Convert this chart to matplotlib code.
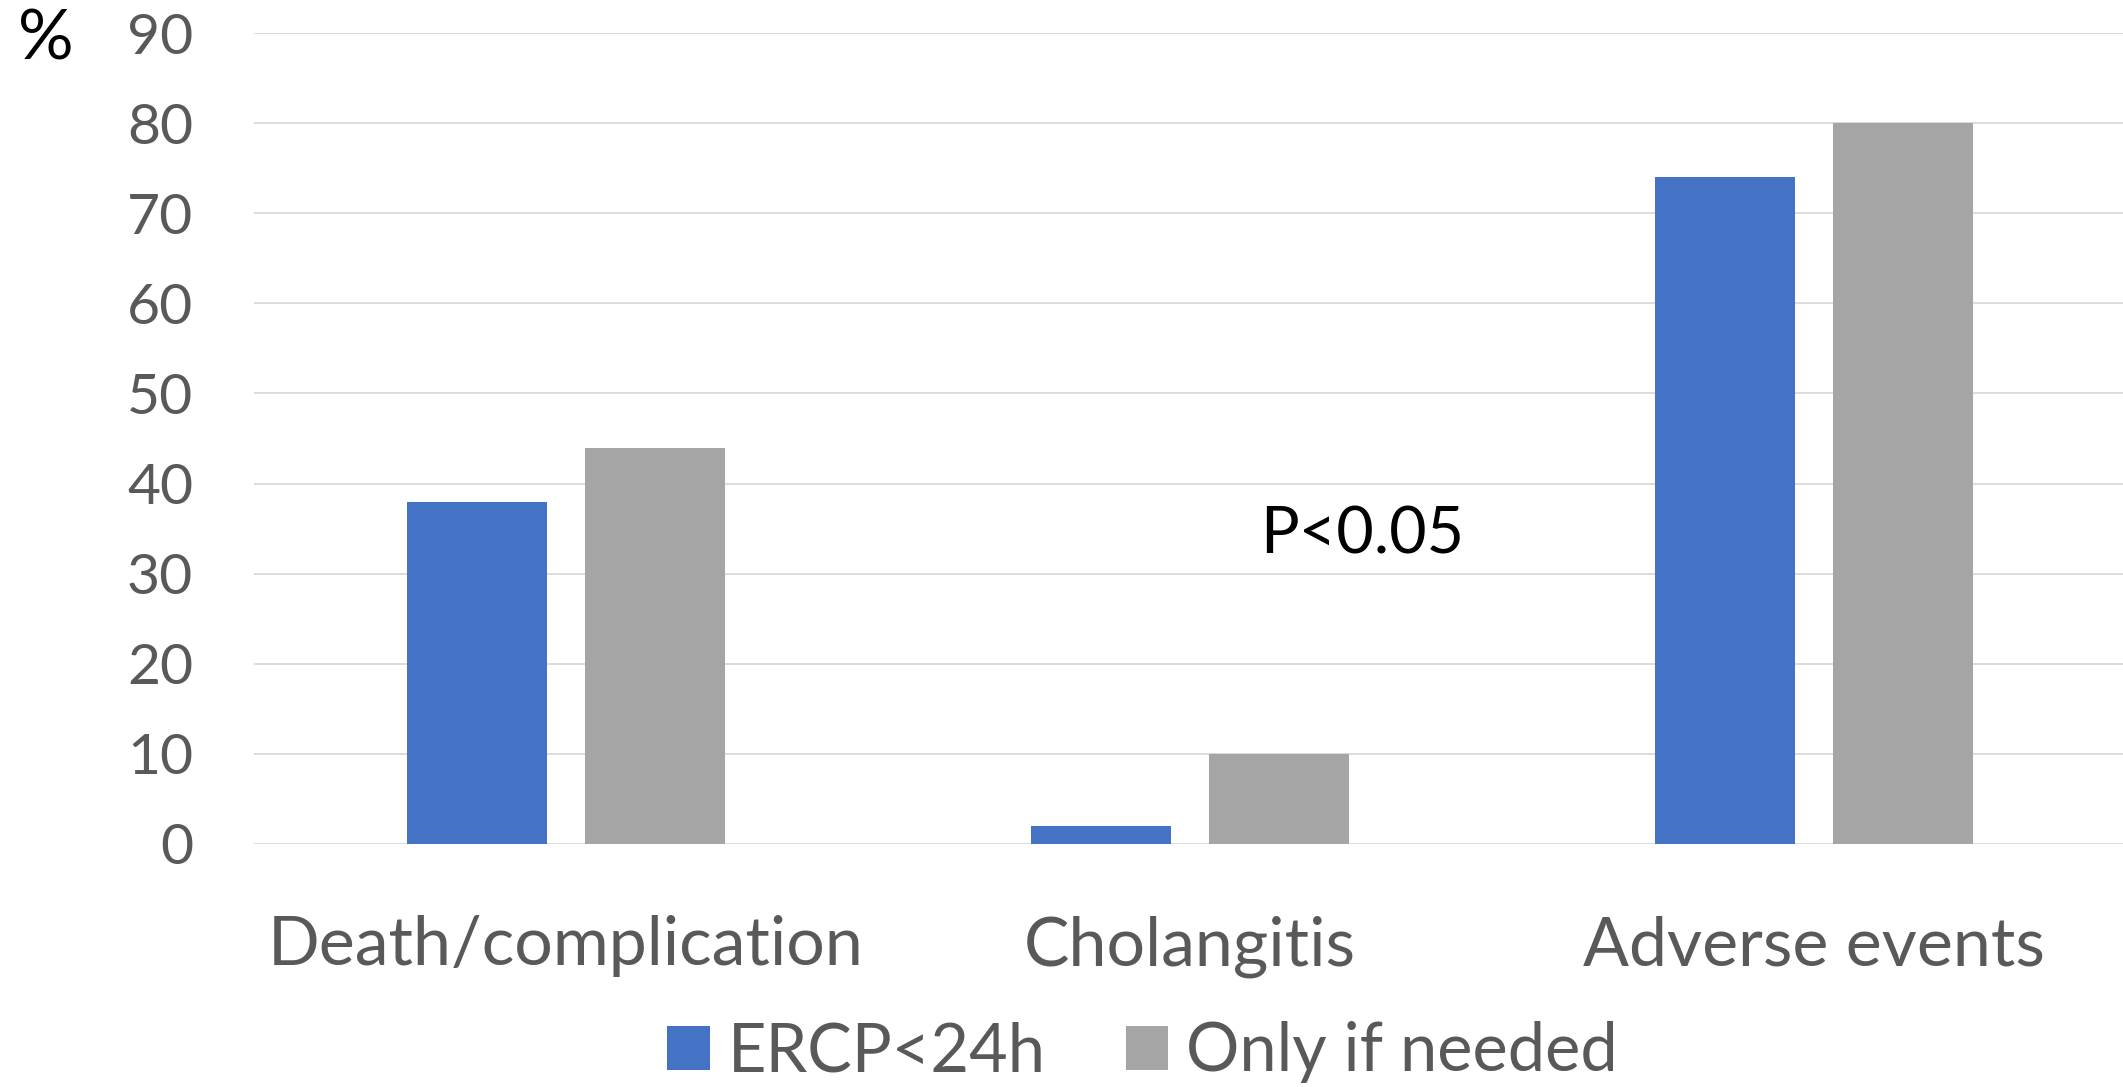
import matplotlib
matplotlib.use("Agg")
import matplotlib.pyplot as plt
import matplotlib.transforms as mtransforms
from matplotlib.patches import Patch
import numpy as np

# Outcome rates (%) by ERCP strategy
categories = ["Death/complication", "Cholangitis", "Adverse events"]
series_names = ["ERCP<24h", "Only if needed"]
ercp_24h = [38, 2, 74]
only_if_needed = [44, 10, 80]
y_ticks = [0, 10, 20, 30, 40, 50, 60, 70, 80, 90]
annotation = "P<0.05"
annotation_pos = (1.276, 32.2)

plt.rcParams["font.family"] = ["Lato", "DejaVu Sans"]

W, H, DPI = 2123, 1087, 100
fig = plt.figure(figsize=(W / DPI, H / DPI), dpi=DPI)

ax_left, ax_right = 254 / W, 1.0
ax_bottom, ax_top = 1 - 844 / H, 1 - 33 / H
ax = fig.add_axes([ax_left, ax_bottom, ax_right - ax_left, ax_top - ax_bottom])

blue = "#4472C4"
gray = "#A5A5A5"
text_gray = "#595959"
grid_gray = "#D9D9D9"

x = np.arange(len(categories))
bar_w = 0.2244
offset = 0.1426
ax.bar(x - offset, ercp_24h, width=bar_w, color=blue, zorder=3)
ax.bar(x + offset, only_if_needed, width=bar_w, color=gray, zorder=3)

ax.set_xlim(-0.5, 2.495)
ax.set_ylim(0, 90)
ax.set_yticks(y_ticks)
ax.set_yticklabels([str(v) for v in y_ticks])
ax.tick_params(axis="y", length=0, pad=43.9, labelsize=41, labelcolor=text_gray)
ax.set_xticks([])
ax.yaxis.grid(True, color=grid_gray, linewidth=1.3, zorder=0)
ax.set_axisbelow(True)
for s in ax.spines.values():
    s.set_visible(False)

# Category labels below the plot area
trans = mtransforms.blended_transform_factory(ax.transData, fig.transFigure)
for xi, name in zip(x, categories):
    ax.text(xi, 1 - 965 / H, name, transform=trans, ha="center", va="baseline",
            fontsize=49, color=text_gray)

# Significance note
ax.text(annotation_pos[0], annotation_pos[1], annotation, ha="center", va="baseline",
        fontsize=46.5, color="black", zorder=4)

# Unit label
fig.text(18 / W, 1 - 60 / H, "%", ha="left", va="baseline", fontsize=50, color="black")

# Legend
handles = [Patch(facecolor=blue, edgecolor="none"), Patch(facecolor=gray, edgecolor="none")]
leg = fig.legend(handles, series_names, loc="center", bbox_to_anchor=(1142.5 / W, 1 - 1052 / H),
                 ncol=2, frameon=False, fontsize=48, handlelength=0.64, handleheight=0.64,
                 handletextpad=0.27, columnspacing=1.2, borderpad=0, borderaxespad=0)
for t in leg.get_texts():
    t.set_color(text_gray)

fig.savefig("out.png", dpi=DPI)
